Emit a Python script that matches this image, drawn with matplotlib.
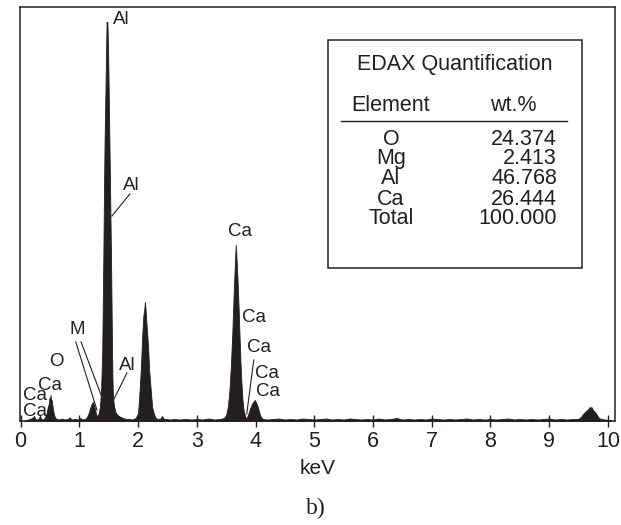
import matplotlib
matplotlib.use("Agg")
import matplotlib.pyplot as plt
from matplotlib.patches import Rectangle

plt.rcParams['font.family'] = ['Liberation Sans', 'DejaVu Sans']
INK = '#231f20'

# EDS spectrum (energy in keV, intensity in counts)
energy = [0.05, 0.10, 0.15, 0.20, 0.23, 0.25, 0.28, 0.31, 0.33, 0.35, 0.38, 0.41, 0.44,
          0.46, 0.48, 0.49, 0.50, 0.51, 0.52, 0.53, 0.55, 0.57, 0.59, 0.62, 0.66, 0.70,
          0.75, 0.80, 0.84, 0.86, 0.92, 0.98, 1.02, 1.05, 1.10, 1.13, 1.16, 1.19, 1.21,
          1.23, 1.25, 1.27, 1.29, 1.31, 1.33, 1.35, 1.37, 1.39, 1.40, 1.41, 1.42, 1.43,
          1.445, 1.456, 1.464, 1.478, 1.49, 1.50, 1.512, 1.524, 1.538, 1.548, 1.555,
          1.563, 1.572, 1.59, 1.62, 1.67, 1.74, 1.80, 1.85, 1.90, 1.96, 2.00, 2.02, 2.05,
          2.07, 2.09, 2.11, 2.116, 2.125, 2.14, 2.17, 2.19, 2.22, 2.24, 2.27, 2.30, 2.34,
          2.38, 2.41, 2.43, 2.47, 2.55, 2.62, 2.70, 2.80, 2.90, 3.00, 3.10, 3.20, 3.30,
          3.40, 3.46, 3.50, 3.53, 3.555, 3.58, 3.606, 3.623, 3.64, 3.654, 3.663, 3.674,
          3.691, 3.708, 3.725, 3.743, 3.76, 3.777, 3.794, 3.82, 3.845, 3.87, 3.904, 3.938,
          3.972, 3.989, 4.006, 4.04, 4.066, 4.092, 4.126, 4.2, 4.3, 4.4, 4.5, 4.6, 4.7,
          4.8, 4.9, 5.0, 5.1, 5.2, 5.3, 5.4, 5.5, 5.6, 5.7, 5.8, 5.9, 6.0, 6.1, 6.2, 6.3,
          6.4, 6.5, 6.6, 6.7, 6.8, 6.9, 7.0, 7.1, 7.2, 7.3, 7.4, 7.5, 7.6, 7.7, 7.8, 7.9,
          8.0, 8.1, 8.2, 8.3, 8.4, 8.5, 8.6, 8.7, 8.8, 8.9, 9.0, 9.1, 9.2, 9.3, 9.4, 9.49,
          9.54, 9.575, 9.61, 9.643, 9.668, 9.686, 9.703, 9.719, 9.745, 9.779, 9.813,
          9.847, 9.88, 9.95, 10.05]
counts = [0, 10, 20, 30, 50, 20, 15, 25, 55, 20, 15, 30, 70,
          130, 170, 230, 200, 260, 190, 210, 120, 60, 30, 20, 15, 25,
          15, 20, 35, 15, 20, 15, 30, 15, 20, 40, 80, 140, 170,
          190, 160, 110, 60, 50, 80, 140, 300, 700, 1200, 1700, 2300, 2800,
          3300, 3700, 3990, 3990, 3700, 3300, 2800, 2300, 1700, 1200, 800,
          450, 250, 150, 80, 50, 30, 20, 20, 15, 30, 80, 250, 550,
          850, 1050, 1140, 1190, 1140, 1000, 750, 500, 280, 140, 70, 30, 20,
          25, 50, 25, 20, 15, 20, 15, 20, 15, 20, 15, 25, 15,
          20, 30, 60, 150, 300, 550, 900, 1200, 1450, 1650, 1760, 1650,
          1450, 1200, 900, 600, 380, 220, 120, 50, 20, 60, 120, 170,
          200, 210, 190, 140, 80, 40, 20, 15, 20, 25, 15, 20, 15,
          25, 20, 15, 20, 25, 15, 20, 15, 25, 20, 15, 20, 15, 25, 15, 20,
          30, 15, 20, 15, 20, 15, 25, 20, 15, 20, 15, 20, 25, 15, 20, 15,
          20, 15, 20, 25, 15, 20, 15, 20, 15, 20, 25, 15, 20, 15, 20, 20,
          40, 70, 90, 110, 120, 140, 130, 140, 110, 90, 60,
          30, 20, 15, 10]

# peak labels: text, x (keV), y (counts), leader lines [(x0, y0, x1, y1), ...]
peak_labels = [
    ('Al', 1.572, 4020, []),
    ('Al', 1.742, 2360, [(1.86, 2270, 1.555, 2050)]),
    ('Al', 1.674, 560, [(1.81, 480, 1.59, 220)]),
    ('M', 0.84, 910, [(0.94, 790, 1.30, 110), (1.03, 790, 1.37, 260)]),
    ('O', 0.48, 600, []),
    ('Ca', 0.295, 360, []),
    ('Ca', 0.04, 250, []),
    ('Ca', 0.04, 100, []),
    ('Ca', 3.53, 1890, []),
    ('Ca', 3.77, 1030, []),
    ('Ca', 3.855, 740, []),
    ('Ca', 3.99, 470, [(3.97, 610, 3.85, 70)]),
    ('Ca', 4.005, 300, []),
]

table_title = 'EDAX Quantification'
elements = ['O', 'Mg', 'Al', 'Ca', 'Total']
wt_pct = ['24.374', '2.413', '46.768', '26.444', '100.000']

fig = plt.figure(figsize=(6.21, 5.25), dpi=100)
ax = fig.add_axes([20 / 621, 104 / 525, 595 / 621, 414 / 525])

ax.fill_between(energy, counts, 0, color=INK, lw=0.6, edgecolor=INK)

for txt, tx, ty, leaders in peak_labels:
    ax.text(tx, ty, txt, fontsize=13.5, color=INK, ha='left', va='center')
    for x0, y0, x1, y1 in leaders:
        ax.plot([x0, x1], [y0, y1], color=INK, lw=0.8)

ax.set_xlim(-0.01, 10.12)
ax.set_ylim(0, 4140)
ax.set_xticks(range(0, 11))
ax.set_yticks([])
ax.tick_params(axis='x', direction='inout', length=9, width=1, colors=INK,
               labelsize=15.5, pad=3)
for s in ax.spines.values():
    s.set_color(INK)
    s.set_linewidth(1.1)
ax.set_xlabel('keV', fontsize=15, color=INK, labelpad=5)
fig.text(316 / 621, 1 - 508 / 525, 'b)', fontsize=17, color=INK,
         family='Liberation Serif', ha='center', va='center')

# quantification table inside the plot
ax.add_patch(Rectangle((0.518, 0.3696), 0.4265, 0.5504, transform=ax.transAxes,
                       fill=False, edgecolor=INK, lw=1.1))
fs = 15.5
ax.text(0.731, 0.860, table_title, transform=ax.transAxes, fontsize=fs,
        color=INK, ha='center', va='center')
ax.text(0.6235, 0.763, 'Element', transform=ax.transAxes, fontsize=fs,
        color=INK, ha='center', va='center')
ax.text(0.8286, 0.763, 'wt.%', transform=ax.transAxes, fontsize=fs,
        color=INK, ha='center', va='center')
ax.plot([0.5395, 0.919], [0.7246, 0.7246], transform=ax.transAxes, color=INK, lw=1)
row_y = [0.681, 0.633, 0.585, 0.536, 0.490]
for el, val, yy in zip(elements, wt_pct, row_y):
    ax.text(0.6235, yy, el, transform=ax.transAxes, fontsize=fs, color=INK,
            ha='center', va='center')
    ax.text(0.9025, yy, val, transform=ax.transAxes, fontsize=fs, color=INK,
            ha='right', va='center')

fig.savefig('out.png', dpi=100)
